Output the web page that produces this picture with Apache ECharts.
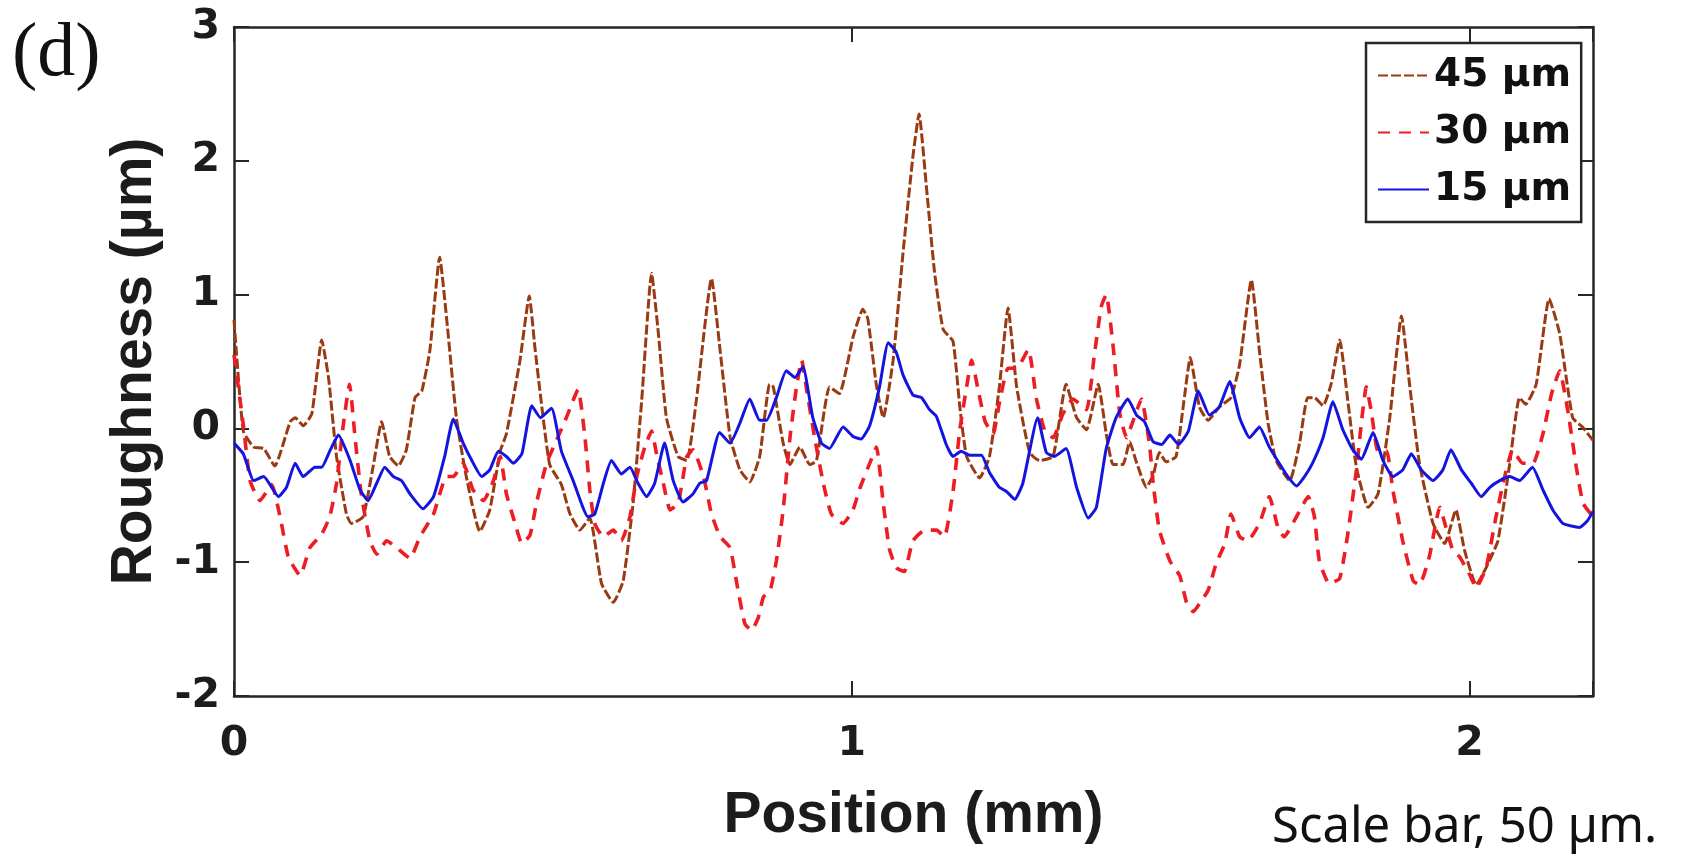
<!DOCTYPE html>
<html>
<head>
<meta charset="utf-8">
<script src="https://cdn.jsdelivr.net/npm/echarts@6/dist/echarts.min.js"></script>
<style>html,body{margin:0;padding:0;background:#fff}#c{width:1689px;height:856px}</style>
</head>
<body>
<div id="c"></div>
<script>
// ---- data (Position in mm, Roughness in µm) ----
const seriesNames = ['45 µm', '30 µm', '15 µm'];
const xTicks = [0, 1, 2];
const yTicks = [-2, -1, 0, 1, 2, 3];

const x45 = [0,0.015,0.032,0.048,0.066,0.091,0.099,0.112,0.126,0.142,0.153,0.166,0.182,0.190,0.209,0.225,0.239,0.252,0.266,0.279,0.293,0.304,0.317,0.333,0.344,0.360,0.376,0.398,0.414,0.431,0.441,0.463,0.478,0.487,0.495,0.511,0.530,0.544,0.560,0.576,0.595,0.614,0.630,0.646,0.660,0.676,0.687,0.700,0.719,0.733,0.749,0.773,0.787,0.803,0.819,0.835,0.851,0.867,0.873,0.889,0.900,0.916,0.932,0.943,0.964,0.980,1.002,1.018,1.026,1.040,1.051,1.067,1.083,1.099,1.109,1.121,1.134,1.148,1.164,1.175,1.186,1.207,1.223,1.239,1.253,1.267,1.288,1.304,1.326,1.347,1.364,1.380,1.399,1.412,1.423,1.439,1.450,1.460,1.477,1.488,1.498,1.509,1.525,1.539,1.548,1.563,1.577,1.595,1.614,1.628,1.647,1.660,1.674,1.687,1.709,1.725,1.738,1.749,1.763,1.776,1.790,1.803,1.817,1.836,1.852,1.871,1.890,1.903,1.919,1.941,1.960,1.978,1.992,2.011,2.027,2.046,2.065,2.081,2.091,2.108,2.129,2.146,2.167,2.183,2.200];
const y45 = [0.81,-0.02,-0.14,-0.15,-0.28,0.05,0.08,0.02,0.11,0.66,0.38,-0.21,-0.64,-0.71,-0.66,-0.29,0.05,-0.21,-0.28,-0.16,0.23,0.28,0.58,1.28,0.83,0.08,-0.36,-0.77,-0.61,-0.17,-0.04,0.51,0.99,0.61,0.29,-0.27,-0.42,-0.64,-0.76,-0.67,-1.16,-1.30,-1.14,-0.56,0.21,1.16,0.71,0.08,-0.21,-0.24,0.23,1.12,0.58,-0.06,-0.31,-0.40,-0.21,0.33,0.31,-0.11,-0.27,-0.14,-0.27,-0.24,0.31,0.26,0.68,0.89,0.82,0.32,0.08,0.51,1.31,2.03,2.35,1.80,1.17,0.74,0.65,0.16,-0.21,-0.37,-0.21,0.31,0.90,0.31,-0.18,-0.24,-0.21,0.33,0.08,-0.01,0.33,-0.04,-0.27,-0.27,-0.10,-0.24,-0.44,-0.35,-0.18,-0.25,-0.21,0.25,0.53,0.16,0.06,0.16,0.23,0.48,1.11,0.58,0.04,-0.24,-0.39,-0.11,0.23,0.23,0.17,0.33,0.66,0.21,-0.29,-0.59,-0.49,0.08,0.84,0.33,-0.26,-0.71,-0.86,-0.61,-0.91,-1.17,-1.04,-0.84,-0.27,0.23,0.18,0.33,0.97,0.71,0.08,0.01,-0.09];

const x30 = [0,0.015,0.026,0.042,0.061,0.075,0.088,0.107,0.123,0.142,0.155,0.166,0.177,0.187,0.196,0.206,0.220,0.231,0.247,0.263,0.285,0.301,0.323,0.344,0.355,0.371,0.387,0.404,0.420,0.431,0.441,0.455,0.466,0.479,0.490,0.506,0.522,0.538,0.557,0.568,0.576,0.584,0.598,0.614,0.627,0.641,0.652,0.665,0.676,0.684,0.695,0.706,0.719,0.733,0.743,0.760,0.773,0.787,0.803,0.814,0.827,0.838,0.849,0.857,0.868,0.878,0.889,0.900,0.910,0.919,0.927,0.940,0.954,0.967,0.986,1.002,1.013,1.030,1.040,1.051,1.061,1.072,1.085,1.099,1.118,1.137,1.150,1.164,1.175,1.186,1.194,1.205,1.216,1.229,1.239,1.253,1.267,1.286,1.299,1.312,1.326,1.342,1.358,1.380,1.393,1.404,1.412,1.423,1.434,1.445,1.455,1.469,1.482,1.488,1.498,1.515,1.531,1.542,1.553,1.563,1.577,1.590,1.604,1.614,1.628,1.641,1.660,1.676,1.690,1.700,1.720,1.739,1.749,1.757,1.773,1.790,1.803,1.817,1.825,1.833,1.841,1.852,1.866,1.876,1.892,1.909,1.919,1.935,1.952,1.962,1.973,1.984,2.000,2.011,2.027,2.043,2.057,2.070,2.086,2.103,2.119,2.133,2.146,2.160,2.173,2.184,2.200];
const y30 = [0.55,0.03,-0.39,-0.54,-0.42,-0.67,-0.96,-1.10,-0.89,-0.79,-0.66,-0.41,0.03,0.33,-0.07,-0.49,-0.84,-0.94,-0.84,-0.89,-0.97,-0.81,-0.64,-0.36,-0.36,-0.26,-0.46,-0.54,-0.39,-0.21,-0.49,-0.71,-0.86,-0.80,-0.55,-0.26,-0.09,0.08,0.29,-0.06,-0.46,-0.71,-0.81,-0.76,-0.84,-0.66,-0.36,-0.14,-0.02,-0.19,-0.41,-0.61,-0.56,-0.21,-0.16,-0.36,-0.64,-0.81,-0.89,-1.16,-1.46,-1.51,-1.41,-1.26,-1.21,-0.99,-0.61,-0.07,0.29,0.51,0.29,-0.07,-0.41,-0.64,-0.71,-0.61,-0.45,-0.25,-0.14,-0.56,-0.90,-1.04,-1.07,-0.84,-0.76,-0.76,-0.81,-0.47,-0.01,0.31,0.51,0.28,0.05,-0.04,0.19,0.45,0.45,0.59,0.22,-0.01,-0.07,0.11,0.22,0.14,0.56,0.91,1.00,0.62,0.11,-0.07,0.05,0.22,-0.12,-0.41,-0.76,-0.99,-1.10,-1.30,-1.37,-1.31,-1.21,-1.01,-0.86,-0.64,-0.81,-0.84,-0.71,-0.51,-0.74,-0.81,-0.66,-0.51,-0.66,-0.99,-1.16,-1.12,-0.79,-0.31,0.04,0.31,0.13,-0.17,-0.17,-0.46,-0.84,-1.14,-1.17,-0.96,-0.59,-0.74,-0.91,-0.96,-1.09,-1.19,-1.04,-0.66,-0.36,-0.16,-0.26,-0.26,-0.04,0.26,0.43,0.11,-0.29,-0.56,-0.66];

const x15 = [0,0.015,0.032,0.048,0.072,0.085,0.099,0.112,0.131,0.142,0.155,0.169,0.188,0.204,0.217,0.231,0.244,0.258,0.271,0.285,0.306,0.323,0.341,0.355,0.371,0.385,0.401,0.414,0.428,0.441,0.452,0.466,0.482,0.496,0.514,0.530,0.549,0.573,0.584,0.598,0.611,0.627,0.641,0.654,0.668,0.681,0.697,0.711,0.727,0.743,0.754,0.765,0.786,0.803,0.819,0.835,0.851,0.862,0.878,0.894,0.908,0.921,0.937,0.951,0.964,0.986,1.002,1.015,1.029,1.045,1.059,1.072,1.083,1.099,1.113,1.126,1.137,1.153,1.164,1.177,1.191,1.210,1.223,1.239,1.250,1.264,1.277,1.301,1.315,1.328,1.347,1.364,1.383,1.396,1.412,1.428,1.447,1.461,1.474,1.488,1.502,1.515,1.529,1.545,1.561,1.579,1.595,1.612,1.628,1.644,1.660,1.676,1.692,1.706,1.720,1.733,1.746,1.763,1.779,1.795,1.811,1.825,1.844,1.860,1.876,1.892,1.906,1.922,1.941,1.957,1.970,1.987,2.003,2.019,2.033,2.049,2.065,2.081,2.102,2.119,2.135,2.151,2.165,2.178,2.191,2.200];
const y15 = [-0.11,-0.19,-0.39,-0.36,-0.51,-0.44,-0.26,-0.36,-0.29,-0.29,-0.17,-0.05,-0.24,-0.46,-0.54,-0.41,-0.29,-0.36,-0.39,-0.49,-0.60,-0.51,-0.21,0.07,-0.11,-0.24,-0.36,-0.31,-0.17,-0.21,-0.26,-0.19,0.17,0.08,0.15,-0.17,-0.39,-0.66,-0.64,-0.41,-0.24,-0.34,-0.29,-0.41,-0.51,-0.41,-0.11,-0.39,-0.55,-0.49,-0.41,-0.39,-0.03,-0.11,0.04,0.22,0.06,0.06,0.23,0.43,0.38,0.46,0.08,-0.11,-0.15,0.01,-0.06,-0.08,0.02,0.31,0.64,0.57,0.40,0.25,0.23,0.14,0.09,-0.12,-0.21,-0.17,-0.20,-0.20,-0.33,-0.44,-0.47,-0.53,-0.41,0.08,-0.18,-0.21,-0.15,-0.44,-0.67,-0.59,-0.15,0.08,0.22,0.10,0.05,-0.10,-0.12,-0.05,-0.12,-0.02,0.28,0.10,0.16,0.35,0.08,-0.07,0.01,-0.14,-0.26,-0.36,-0.43,-0.36,-0.26,-0.07,0.20,-0.01,-0.16,-0.23,-0.03,-0.24,-0.36,-0.31,-0.19,-0.31,-0.39,-0.31,-0.16,-0.31,-0.41,-0.51,-0.44,-0.39,-0.36,-0.39,-0.29,-0.46,-0.61,-0.71,-0.73,-0.74,-0.69,-0.62];

const zip = (xs, ys) => xs.map((x, i) => [x, ys[i]]);

const AX = '#262626';
const tickFont = { fontFamily: '"DejaVu Sans"', fontWeight: 'bold', fontSize: 41, color: '#1c1c1c' };
const titleFont = { fontFamily: '"Liberation Sans", Arial', fontWeight: 'bold', fontSize: 57, color: '#1c1c1c' };

function xAx(pos, labels) {
  return {
    type: 'value', position: pos, min: 0, max: 2.2, interval: 1,
    axisLine: { show: true, onZero: false, lineStyle: { color: AX, width: 2.5 } },
    axisTick: { show: true, inside: true, length: 15, lineStyle: { color: AX, width: 2 } },
    axisLabel: labels ? Object.assign({ show: true, margin: 28,
      formatter: v => (xTicks.indexOf(v) >= 0 ? String(v) : '') }, tickFont) : { show: false },
    splitLine: { show: false }
  };
}
function yAx(pos, labels) {
  return {
    type: 'value', position: pos, min: -2, max: 3, interval: 1,
    axisLine: { show: true, onZero: false, lineStyle: { color: AX, width: 2.5 } },
    axisTick: { show: true, inside: true, length: 15, lineStyle: { color: AX, width: 2 } },
    axisLabel: labels ? Object.assign({ show: true, margin: 14,
      formatter: v => (yTicks.indexOf(v) >= 0 ? String(v) : '') }, tickFont) : { show: false },
    splitLine: { show: false }
  };
}

const xBottom = xAx('bottom', true);
xBottom.name = 'Position (mm)';
xBottom.nameLocation = 'middle';
xBottom.nameGap = 92;
xBottom.nameTextStyle = titleFont;
const yLeft = yAx('left', true);
yLeft.name = 'Roughness (µm)';
yLeft.nameLocation = 'middle';
yLeft.nameGap = 66;
yLeft.nameTextStyle = titleFont;

const chart = echarts.init(document.getElementById('c'), null, { renderer: 'canvas' });
chart.setOption({
  backgroundColor: '#ffffff',
  animation: false,
  grid: { left: 234, right: 96, top: 27, bottom: 160, containLabel: false },
  xAxis: [xBottom, xAx('top', false)],
  yAxis: [yLeft, yAx('right', false)],
  legend: {
    orient: 'vertical', left: 1366, top: 43,
    data: seriesNames,
    backgroundColor: '#ffffff', borderColor: AX, borderWidth: 2.5,
    padding: [13, 10, 13, 11], itemGap: 18, itemWidth: 51, itemHeight: 14,
    itemStyle: { opacity: 0 },
    textStyle: { fontFamily: '"DejaVu Sans"', fontWeight: 'bold', fontSize: 39, color: '#111' }
  },
  graphic: [
    { type: 'text', left: 12, top: 17,
      style: { text: '(d)', fontFamily: '"Liberation Serif", "Times New Roman"', fontSize: 76, fill: '#111' } },
    { type: 'text', left: 1272, top: 804,
      style: { text: 'Scale bar, 50 µm.', fontFamily: '"Noto Sans"', fontSize: 49, fill: '#111' } }
  ],
  series: [
    { name: seriesNames[0], type: 'line', data: zip(x45, y45), showSymbol: false, symbol: 'none', smooth: 0.15,
      lineStyle: { color: '#9a3a12', width: 3, type: [10, 3] }, itemStyle: { color: '#9a3a12' } },
    { name: seriesNames[1], type: 'line', data: zip(x30, y30), showSymbol: false, symbol: 'none', smooth: 0.15,
      lineStyle: { color: '#ee1c24', width: 3.6, type: [12, 9] }, itemStyle: { color: '#ee1c24' } },
    { name: seriesNames[2], type: 'line', data: zip(x15, y15), showSymbol: false, symbol: 'none', smooth: 0.15,
      lineStyle: { color: '#1414e0', width: 3, type: 'solid' }, itemStyle: { color: '#1414e0' } }
  ]
});
</script>
</body>
</html>
